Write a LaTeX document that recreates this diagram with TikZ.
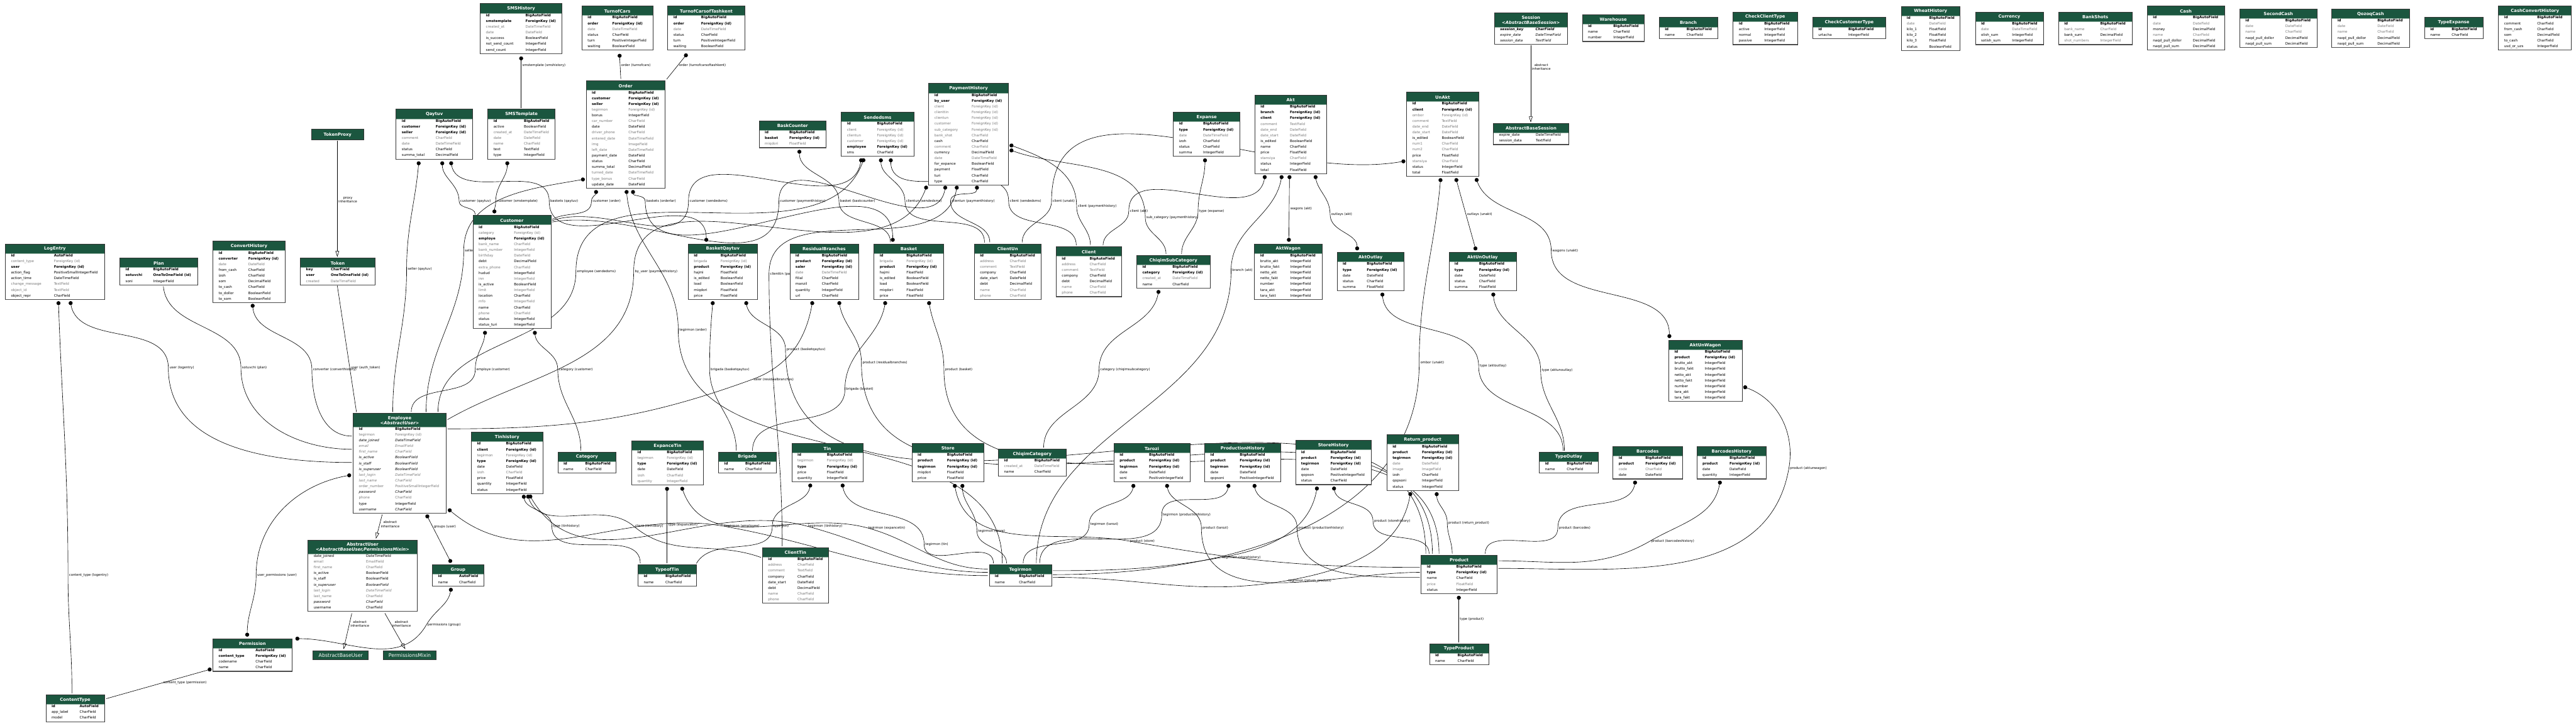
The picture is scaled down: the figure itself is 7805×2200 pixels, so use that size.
\documentclass[tikz,border=0pt]{standalone}
\usepackage{fontspec}
\setmainfont{DejaVu Sans}
\usetikzlibrary{arrows.meta,calc}
\pgfdeclarelayer{bg}\pgfdeclarelayer{edges}
\pgfsetlayers{bg,edges,main}
\definecolor{hdrgreen}{HTML}{1B563F}
\definecolor{fgray}{HTML}{7B7B7B}
\definecolor{hdrline}{HTML}{8FAF9F}
\newcommand\rowfont{\fontsize{5.3}{6}\selectfont}
\newcommand\hdrfont{\fontsize{6.5}{7.5}\selectfont\bfseries}
\newcommand\lblfont{\fontsize{5}{5.8}\selectfont}
\def\RB{\bfseries}\def\RN{}\def\RG{\color{fgray}}\def\RI{\itshape}
\def\RIG{\itshape\color{fgray}}\def\RIB{\bfseries\itshape}
\tikzset{
  x=0.5pt,y=-0.5pt,
  rowtxt/.style={font=\rowfont,anchor=base west,inner sep=0pt},
  hdrtxt/.style={font=\hdrfont,text=white,align=center,inner sep=0pt},
  edge/.style={draw=black,line width=0.6pt},
  fk/.style={edge,{Circle[length=6pt,width=6pt]}-},
  mm/.style={edge,{Circle[length=6pt,width=6pt]}-{Circle[length=6pt,width=6pt]}},
  oo/.style={edge},
  inh/.style={edge,-{Triangle[open,length=9pt,width=5.5pt]}},
  lbl/.style={font=\lblfont,inner sep=1.5pt,align=center},
}
% #1 header height, #2 name, #3 x, #4 y, #5 width, #6 type column, #7 title, #8 rows
\newcommand\tbl[8][29]{%
  \xdef\nrows{0}%
  \foreach \r [count=\k] in {#8} {\xdef\nrows{\k}}%
  \pgfmathsetmacro\tabh{#1+18+17.4*(\nrows-1)}%
  \fill[white] (#3,#4) rectangle ++(#5,\tabh);
  \fill[hdrgreen] (#3,#4) rectangle ++(#5,#1);
  \draw[hdrline,line width=0.8pt] (#3,#4+#1) -- ++(#5,0);
  \draw[black!80,line width=0.6pt] (#3,#4) rectangle ++(#5,\tabh);
  \draw[black!70,line width=1.2pt] (#3,#4+\tabh) -- ++(#5,0);
  \node[hdrtxt] at (#3+#5/2,#4+#1/2+1) {#7};
  \foreach \s/\f/\t [count=\k] in {#8} {
    \node[rowtxt] at (#3+17,#4+#1+10+17.4*\k-17.4) {\s\f};
    \node[rowtxt] at (#3+#6,#4+#1+10+17.4*\k-17.4) {\s\t};
  }
  \node[inner sep=0pt,minimum width=#5*0.5pt,minimum height=\tabh*0.5pt,anchor=north west] (#2) at (#3,#4) {};
}
% header-only box: #1 name #2 x #3 y #4 w #5 h #6 text #7 font
\newcommand\hbx[7]{%
  \fill[hdrgreen] (#2,#3) rectangle ++(#4,#5);
  \draw[black!80,line width=0.6pt] (#2,#3) rectangle ++(#4,#5);
  \node[inner sep=0pt,minimum width=#4*0.5pt,minimum height=#5*0.5pt,anchor=north west,text=white,font=#7] (#1) at (#2,#3) {#6};
}
% straight connector: [#1 style] #2 (offset #3) to #4 (offset #5), #6 to-options, #7 label options, #8 label
\newcommand\E[8][fk]{\draw[#1] ($(#2.north west)+(#3)$) to[#6] node[lbl,#7]{#8} ($(#4.north west)+(#5)$);}
% curved connector through a label point: [#1] #2 (off #3) out #4, via #5, to #6 (off #7) in #8, label #9
\def\mo{-90}\def\mi{90}
\newcommand\F[9][fk]{\draw[#1] ($(#2.north west)+(#3)$) to[out=#4,in=\mi] (#5) node[lbl,anchor=west]{#9} to[out=\mo,in=#8] ($(#6.north west)+(#7)$);}
\begin{document}
\begin{tikzpicture}
\begin{pgfonlayer}{bg}
\fill[white] (0,0) rectangle (7805,2200);
\end{pgfonlayer}
\useasboundingbox (0,0) rectangle (7805,2200);

% ---------------- top row ----------------
\tbl{smshistory}{1455}{11}{248}{137}{SMSHistory}{\RB/id/BigAutoField,\RB/smstemplate/ForeignKey (id),\RG/created\_at/DateTimeField,\RG/date/DateField,\RN/is\_success/BooleanField,\RN/not\_send\_count/IntegerField,\RN/send\_count/IntegerField}
\tbl{turnofcars}{1763}{18}{215}{92}{TurnofCars}{\RB/id/BigAutoField,\RB/order/ForeignKey (id),\RG/date/DateTimeField,\RN/status/CharField,\RN/turn/PositiveIntegerField,\RN/waiting/BooleanField}
\tbl{turnofcarsoftashkent}{2023}{18}{234}{101}{TurnofCarsofTashkent}{\RB/id/BigAutoField,\RB/order/ForeignKey (id),\RG/date/DateTimeField,\RN/status/CharField,\RN/turn/PositiveIntegerField,\RN/waiting/BooleanField}
\tbl{order}{1776}{245}{239}{128}{Order}{\RB/id/BigAutoField,\RB/customer/ForeignKey (id),\RB/seller/ForeignKey (id),\RG/tegirmon/ForeignKey (id),\RN/bonus/IntegerField,\RG/car\_number/CharField,\RN/date/DateField,\RG/driver\_phone/CharField,\RG/entered\_date/DateTimeField,\RG/img/ImageField,\RG/left\_date/DateTimeField,\RN/payment\_date/DateField,\RN/status/CharField,\RN/summa\_total/DecimalField,\RG/turned\_date/DateTimeField,\RG/type\_bonus/CharField,\RN/update\_date/DateField}
\tbl{qaytuv}{1200}{331}{232}{120}{Qaytuv}{\RB/id/BigAutoField,\RB/customer/ForeignKey (id),\RB/seller/ForeignKey (id),\RG/comment/CharField,\RG/date/DateTimeField,\RN/status/CharField,\RN/summa\_total/DecimalField}
\tbl{smstemplate}{1478}{331}{204}{109}{SMSTemplate}{\RB/id/BigAutoField,\RN/active/BooleanField,\RG/created\_at/DateTimeField,\RG/date/DateField,\RG/name/CharField,\RN/text/TextField,\RN/type/IntegerField}
\hbx{tokenproxy}{943}{392}{159}{32}{TokenProxy}{\hdrfont}
\tbl{baskcounter}{2300}{366}{203}{91}{BaskCounter}{\RB/id/BigAutoField,\RB/basket/ForeignKey (id),\RG/miqdori/FloatField}
\tbl{sendedsms}{2549}{340}{220}{108}{Sendedsms}{\RB/id/BigAutoField,\RG/client/ForeignKey (id),\RG/clientun/ForeignKey (id),\RG/customer/ForeignKey (id),\RB/employee/ForeignKey (id),\RN/sms/CharField}
\tbl{paymenthistory}{2814}{253}{241}{130}{PaymentHistory}{\RB/id/BigAutoField,\RB/by\_user/ForeignKey (id),\RG/client/ForeignKey (id),\RG/clienttin/ForeignKey (id),\RG/clientun/ForeignKey (id),\RG/customer/ForeignKey (id),\RG/sub\_category/ForeignKey (id),\RG/bank\_shot/CharField,\RN/cash/CharField,\RG/comment/CharField,\RN/currency/DecimalField,\RG/date/DateTimeField,\RN/for\_expance/BooleanField,\RN/payment/FloatField,\RN/turi/CharField,\RN/type/CharField}
\tbl{expanse}{3555}{340}{202}{90}{Expanse}{\RB/id/BigAutoField,\RB/type/ForeignKey (id),\RG/date/DateTimeField,\RN/izoh/CharField,\RN/status/CharField,\RN/summa/IntegerField}
\tbl{akt}{3802}{288}{217}{106}{Akt}{\RB/id/BigAutoField,\RB/branch/ForeignKey (id),\RB/client/ForeignKey (id),\RG/comment/TextField,\RG/date\_end/DateField,\RG/date\_start/DateField,\RN/is\_edited/BooleanField,\RN/name/CharField,\RN/price/FloatField,\RG/stansiya/CharField,\RN/status/IntegerField,\RN/total/FloatField}
\tbl{unakt}{4262}{279}{218}{106}{UnAkt}{\RB/id/BigAutoField,\RB/client/ForeignKey (id),\RG/ombor/ForeignKey (id),\RG/comment/TextField,\RG/date\_end/DateField,\RG/date\_start/DateField,\RN/is\_edited/BooleanField,\RG/num1/CharField,\RG/num2/CharField,\RN/price/FloatField,\RG/stansiya/CharField,\RN/status/IntegerField,\RN/total/FloatField}
\tbl[44]{session}{4528}{38}{221}{124}{Session\\\textit{<AbstractBaseSession>}}{\RIB/session\_key/CharField,\RI/expire\_date/DateTimeField,\RI/session\_data/TextField}
\tbl{abstractbasesession}{4525}{374}{228}{128}{AbstractBaseSession}{\RN/expire\_date/DateTimeField,\RN/session\_data/TextField}
\tbl{warehouse}{4794}{44}{188}{94}{Warehouse}{\RB/id/BigAutoField,\RN/name/CharField,\RN/number/IntegerField}
\tbl{branch}{5027}{53}{177}{83}{Branch}{\RB/id/BigAutoField,\RN/name/CharField}
\tbl{checkclienttype}{5251}{36}{195}{94}{CheckClientType}{\RB/id/BigAutoField,\RN/active/IntegerField,\RN/normal/IntegerField,\RN/passive/IntegerField}
\tbl{checkcustomertype}{5492}{53}{222}{108}{CheckCustomerType}{\RB/id/BigAutoField,\RN/urtacha/IntegerField}
\tbl{wheathistory}{5760}{19}{179}{85}{WheatHistory}{\RB/id/BigAutoField,\RG/date/DateField,\RN/kilo\_1/FloatField,\RN/kilo\_2/FloatField,\RN/kilo\_3/FloatField,\RN/status/BooleanField}
\tbl{currency}{5985}{36}{206}{111}{Currency}{\RB/id/BigAutoField,\RG/date/DateTimeField,\RN/olish\_sum/IntegerField,\RN/sotish\_sum/IntegerField}
\tbl{bankshots}{6237}{36}{223}{126}{BankShots}{\RB/id/BigAutoField,\RG/bank\_name/CharField,\RN/bank\_sum/DecimalField,\RG/shot\_numbers/IntegerField}
\tbl{cash}{6506}{18}{234}{138}{Cash}{\RB/id/BigAutoField,\RG/date/DateField,\RN/money/DecimalField,\RG/name/CharField,\RN/naqd\_pull\_dollor/DecimalField,\RN/naqd\_pull\_sum/DecimalField}
\tbl{secondcash}{6786}{27}{234}{138}{SecondCash}{\RB/id/BigAutoField,\RG/date/DateField,\RG/name/CharField,\RN/naqd\_pull\_dollor/DecimalField,\RN/naqd\_pull\_sum/DecimalField}
\tbl{qozoqcash}{7065}{27}{235}{138}{QozoqCash}{\RB/id/BigAutoField,\RG/date/DateField,\RG/name/CharField,\RN/naqd\_pull\_dollor/DecimalField,\RN/naqd\_pull\_sum/DecimalField}
\tbl{typeexpanse}{7346}{53}{177}{82}{TypeExpanse}{\RB/id/BigAutoField,\RN/name/CharField}
\tbl{cashconverthistory}{7570}{18}{221}{117}{CashConvertHistory}{\RB/id/BigAutoField,\RN/comment/CharField,\RN/from\_cash/CharField,\RN/som/DecimalField,\RN/to\_cash/CharField,\RN/usd\_or\_uzs/IntegerField}

% ---------------- middle row ----------------
\tbl{logentry}{16}{739}{301}{147}{LogEntry}{\RB/id/AutoField,\RG/content\_type/ForeignKey (id),\RB/user/ForeignKey (id),\RN/action\_flag/PositiveSmallIntegerField,\RN/action\_time/DateTimeField,\RG/change\_message/TextField,\RG/object\_id/TextField,\RN/object\_repr/CharField}
\tbl{plan}{363}{782}{236}{101}{Plan}{\RB/id/BigAutoField,\RB/sotuvchi/OneToOneField (id),\RN/soni/IntegerField}
\tbl{converthistory}{645}{731}{219}{107}{ConvertHistory}{\RB/id/BigAutoField,\RB/converter/ForeignKey (id),\RG/date/DateField,\RN/from\_cash/CharField,\RN/izoh/CharField,\RN/som/DecimalField,\RN/to\_cash/CharField,\RN/to\_dollor/BooleanField,\RN/to\_som/BooleanField}
\tbl{token}{910}{782}{227}{92}{Token}{\RB/key/CharField,\RB/user/OneToOneField (id),\RG/created/DateTimeField}
\tbl{customer}{1433}{653}{236}{124}{Customer}{\RB/id/BigAutoField,\RG/category/ForeignKey (id),\RB/employe/ForeignKey (id),\RG/bank\_name/CharField,\RG/bank\_number/IntegerField,\RG/birthday/DateField,\RN/debt/DecimalField,\RG/extra\_phone/CharField,\RN/hudud/IntegerField,\RG/inn/IntegerField,\RN/is\_active/BooleanField,\RG/limit/IntegerField,\RN/location/CharField,\RG/mfo/IntegerField,\RN/name/CharField,\RG/phone/CharField,\RN/status/IntegerField,\RN/status\_turi/IntegerField}
\tbl{basketqaytuv}{2085}{739}{210}{98}{BasketQaytuv}{\RB/id/BigAutoField,\RG/brigada/ForeignKey (id),\RB/product/ForeignKey (id),\RN/hajmi/FloatField,\RN/is\_edited/BooleanField,\RN/load/BooleanField,\RN/miqdori/FloatField,\RN/price/FloatField}
\tbl{residualbranches}{2393}{739}{208}{97}{ResidualBranches}{\RB/id/BigAutoField,\RB/product/ForeignKey (id),\RB/saler/ForeignKey (id),\RG/date/DateTimeField,\RN/filial/CharField,\RN/manzil/CharField,\RN/quantity/IntegerField,\RN/url/CharField}
\tbl{basket}{2648}{739}{211}{98}{Basket}{\RB/id/BigAutoField,\RG/brigada/ForeignKey (id),\RB/product/ForeignKey (id),\RN/hajmi/FloatField,\RN/is\_edited/BooleanField,\RN/load/BooleanField,\RN/miqdori/FloatField,\RN/price/FloatField}
\tbl{clientun}{2952}{739}{202}{107}{ClientUn}{\RB/id/BigAutoField,\RG/address/CharField,\RG/comment/TextField,\RN/compony/CharField,\RN/date\_start/DateField,\RN/debt/DecimalField,\RG/name/CharField,\RG/phone/CharField}
\tbl{client}{3200}{748}{198}{101}{Client}{\RB/id/BigAutoField,\RG/address/CharField,\RG/comment/TextField,\RN/compony/CharField,\RN/debt/DecimalField,\RG/name/CharField,\RG/phone/CharField}
\tbl{chiqimsubcategory}{3444}{774}{222}{108}{ChiqimSubCategory}{\RB/id/BigAutoField,\RB/category/ForeignKey (id),\RG/created\_at/DateTimeField,\RN/name/CharField}
\tbl{aktwagon}{3801}{739}{204}{108}{AktWagon}{\RB/id/BigAutoField,\RN/brutto\_akt/IntegerField,\RN/brutto\_fakt/IntegerField,\RN/netto\_akt/IntegerField,\RN/netto\_fakt/IntegerField,\RN/number/IntegerField,\RN/tara\_akt/IntegerField,\RN/tara\_fakt/IntegerField}
\tbl{aktoutlay}{4051}{765}{203}{90}{AktOutlay}{\RB/id/BigAutoField,\RB/type/ForeignKey (id),\RN/date/DateField,\RN/status/CharField,\RN/summa/FloatField}
\tbl{aktunoutlay}{4390}{765}{204}{91}{AktUnOutlay}{\RB/id/BigAutoField,\RB/type/ForeignKey (id),\RN/date/DateField,\RN/status/CharField,\RN/summa/FloatField}
\tbl{aktunwagon}{5056}{1031}{222}{109}{AktUnWagon}{\RB/id/BigAutoField,\RB/product/ForeignKey (id),\RN/brutto\_akt/IntegerField,\RN/brutto\_fakt/IntegerField,\RN/netto\_akt/IntegerField,\RN/netto\_fakt/IntegerField,\RN/number/IntegerField,\RN/tara\_akt/IntegerField,\RN/tara\_fakt/IntegerField}

% ---------------- lower row ----------------
\tbl[42]{employee}{1070}{1252}{282}{127}{Employee\\\textit{<AbstractUser>}}{\RB/id/BigAutoField,\RG/tegirmon/ForeignKey (id),\RI/date\_joined/DateTimeField,\RIG/email/EmailField,\RIG/first\_name/CharField,\RI/is\_active/BooleanField,\RI/is\_staff/BooleanField,\RI/is\_superuser/BooleanField,\RIG/last\_login/DateTimeField,\RIG/last\_name/CharField,\RG/order\_number/PositiveSmallIntegerField,\RI/password/CharField,\RG/phone/CharField,\RN/type/IntegerField,\RI/username/CharField}
\tbl{tinhistory}{1428}{1310}{217}{105}{Tinhistory}{\RB/id/BigAutoField,\RB/client/ForeignKey (id),\RG/tegirmon/ForeignKey (id),\RB/type/ForeignKey (id),\RN/date/DateField,\RG/izoh/CharField,\RN/price/FloatField,\RN/quantity/IntegerField,\RN/status/IntegerField}
\tbl{category}{1690}{1370}{177}{83}{Category}{\RB/id/BigAutoField,\RN/name/CharField}
\tbl{expancetin}{1914}{1336}{217}{106}{ExpanceTin}{\RB/id/BigAutoField,\RG/tegirmon/ForeignKey (id),\RB/type/ForeignKey (id),\RN/date/DateField,\RG/izoh/CharField,\RG/quantity/IntegerField}
\tbl{brigada}{2177}{1370}{175}{81}{Brigada}{\RB/id/BigAutoField,\RN/name/CharField}
\tbl{tin}{2399}{1344}{216}{106}{Tin}{\RB/id/BigAutoField,\RG/tegirmon/ForeignKey (id),\RB/type/ForeignKey (id),\RN/price/FloatField,\RN/quantity/IntegerField}
\tbl{store}{2763}{1344}{218}{106}{Store}{\RB/id/BigAutoField,\RB/product/ForeignKey (id),\RB/tegirmon/ForeignKey (id),\RN/miqdori/FloatField,\RN/price/FloatField}
\tbl{chiqimcategory}{3025}{1361}{205}{109}{ChiqimCategory}{\RB/id/BigAutoField,\RG/created\_at/DateTimeField,\RN/name/CharField}
\tbl{tarozi}{3375}{1344}{230}{106}{Tarozi}{\RB/id/BigAutoField,\RB/product/ForeignKey (id),\RB/tegirmon/ForeignKey (id),\RN/date/DateField,\RN/soni/PositiveIntegerField}
\tbl{productionhistory}{3650}{1344}{230}{106}{ProductionHistory}{\RB/id/BigAutoField,\RB/product/ForeignKey (id),\RB/tegirmon/ForeignKey (id),\RN/date/DateField,\RN/qopsoni/PositiveIntegerField}
\tbl{storehistory}{3925}{1335}{230}{106}{StoreHistory}{\RB/id/BigAutoField,\RB/product/ForeignKey (id),\RB/tegirmon/ForeignKey (id),\RN/date/DateField,\RN/qopson/PositiveIntegerField,\RN/status/CharField}
\tbl{returnproduct}{4202}{1318}{217}{106}{Return\_product}{\RB/id/BigAutoField,\RB/product/ForeignKey (id),\RB/tegirmon/ForeignKey (id),\RG/date/DateField,\RG/image/ImageField,\RN/izoh/CharField,\RN/qopsoni/IntegerField,\RN/status/IntegerField}
\tbl{typeoutlay}{4664}{1370}{178}{83}{TypeOutlay}{\RB/id/BigAutoField,\RN/name/CharField}
\tbl{barcodes}{4887}{1353}{210}{98}{Barcodes}{\RB/id/BigAutoField,\RB/product/ForeignKey (id),\RG/code/CharField,\RN/date/DateField}
\tbl{barcodeshistory}{5141}{1353}{211}{99}{BarcodesHistory}{\RB/id/BigAutoField,\RB/product/ForeignKey (id),\RN/date/DateField,\RN/quantity/IntegerField}

% ---------------- bottom ----------------
\tbl[42]{abstractuser}{933}{1637}{331}{176}{AbstractUser\\\textit{<AbstractBaseUser,PermissionsMixin>}}{\RN/date\_joined/DateTimeField,\RG/email/EmailField,\RG/first\_name/CharField,\RN/is\_active/BooleanField,\RN/is\_staff/BooleanField,\RI/is\_superuser/BooleanField,\RIG/last\_login/DateTimeField,\RG/last\_name/CharField,\RI/password/CharField,\RN/username/CharField}
\tbl{group}{1310}{1712}{156}{81}{Group}{\RB/id/AutoField,\RN/name/CharField}
\tbl{typeoftin}{1933}{1712}{177}{83}{TypeofTin}{\RB/id/BigAutoField,\RN/name/CharField}
\tbl{clienttin}{2310}{1660}{200}{106}{ClientTin}{\RB/id/BigAutoField,\RG/address/CharField,\RG/comment/TextField,\RN/compony/CharField,\RN/date\_start/DateField,\RN/debt/DecimalField,\RG/name/CharField,\RG/phone/CharField}
\tbl{tegirmon}{2997}{1712}{189}{90}{Tegirmon}{\RB/id/BigAutoField,\RN/name/CharField}
\tbl{product}{4306}{1683}{230}{106}{Product}{\RB/id/BigAutoField,\RB/type/ForeignKey (id),\RN/name/CharField,\RG/price/FloatField,\RN/status/IntegerField}
\tbl{typeproduct}{4331}{1951}{179}{85}{TypeProduct}{\RB/id/BigAutoField,\RN/name/CharField}
\tbl{permission}{645}{1936}{240}{129}{Permission}{\RB/id/AutoField,\RB/content\_type/ForeignKey (id),\RN/codename/CharField,\RN/name/CharField}
\hbx{abstractbaseuser}{948}{1972}{168}{28}{AbstractBaseUser}{\fontsize{7.5}{8}\selectfont}
\hbx{permissionsmixin}{1161}{1972}{160}{28}{PermissionsMixin}{\fontsize{7.5}{8}\selectfont}
\tbl{contenttype}{139}{2106}{178}{102}{ContentType}{\RB/id/AutoField,\RN/app\_label/CharField,\RN/model/CharField}

% ---------------- connectors (on a layer under the tables) ----------------
\begin{pgfonlayer}{edges}
\E{smshistory}{124,160}{smstemplate}{101,-4}{}{right,pos=0.17}{smstemplate (smshistory)}
\E{turnofcars}{114,145}{order}{105,-5}{}{right,pos=0.45}{order (turnofcars)}
\E{turnofcarsoftashkent}{59,145}{order}{244,-5}{}{right,pos=0.45}{order (turnofcarsoftashkent)}
\E[inh]{tokenproxy}{79,34}{token}{112,-3}{}{right,pos=0.51}{proxy\\inheritance}
\E[inh]{session}{110,100}{abstractbasesession}{113,-3}{}{right,pos=0.28}{abstract\\inheritance}
\E[oo]{token}{112,84}{employee}{10,-3}{}{right,pos=0.65}{user (auth\_token)}
\E[mm]{akt}{105,243}{aktwagon}{104,-6}{}{right,pos=0.5}{wagons (akt)}
\E[mm]{unakt}{149,261}{aktunoutlay}{82,-6}{}{right,pos=0.5}{outlays (unakt)}
\E[mm]{employee}{222,308}{group}{57,-6}{}{right,pos=0.25}{groups (user)}
\E{permission}{-4,92}{contenttype}{183,12}{}{right,pos=0.47}{content\_type (permission)}
\E[inh]{employee}{88,308}{abstractuser}{206,-4}{}{right,pos=0.4}{abstract\\inheritance}
\E[inh]{abstractuser}{133,222}{abstractbaseuser}{93,-4}{}{right,pos=0.3}{abstract\\inheritance}
\E[inh]{abstractuser}{233,222}{permissionsmixin}{67,-4}{}{right,pos=0.3}{abstract\\inheritance}
\E{expancetin}{107,140}{typeoftin}{88,-4}{}{right,pos=0.5}{type (expancetin)}
\E{product}{114,123}{typeproduct}{89,-4}{}{right,pos=0.5}{type (product)}

\F{qaytuv}{140,158}{-90}{1391,610}{customer}{7,-3}{90}{customer (qaytuv)}
\F[mm]{smstemplate}{59,158}{-90}{1502,610}{customer}{65,-6}{90}{customer (smstemplate)}
\F[mm]{qaytuv}{166,158}{-80}{1664,610}{basketqaytuv}{55,-6}{90}{baskets (qaytuv)}
\F{order}{30,331}{-90}{1792,610}{customer}{240,12}{30}{customer (order)}
\F[mm]{order}{142,331}{-90}{1955,610}{basket}{57,-6}{90}{baskets (orderlar)}
\F{sendedsms}{61,140}{-100}{2086,610}{customer}{240,16}{20}{customer (sendedsms)}
\F{paymenthistory}{51,310}{-100}{2360,610}{customer}{240,20}{10}{customer (paymenthistory)}
\F{baskcounter}{122,88}{-90}{2542,610}{basket}{50,-4}{90}{basket (baskcounter)}
\F{sendedsms}{120,140}{-90}{2742,610}{clientun}{31,-4}{90}{clientun (sendedsms)}
\F{paymenthistory}{146,310}{-90}{2880,610}{clientun}{47,-4}{90}{clientun (paymenthistory)}
\F{sendedsms}{150,140}{-90}{3056,610}{client}{61,-4}{90}{client (sendedsms)}
\F{unakt}{-4,209}{190}{3186,610}{clientun}{145,-4}{90}{client (unakt)}
\F{paymenthistory}{245,186}{-20}{3262,625}{client}{104,-4}{90}{client (paymenthistory)}
\F{akt}{31,243}{-100}{3420,640}{client}{142,-4}{90}{client (akt)}
\F{paymenthistory}{245,201}{-20}{3470,660}{chiqimsubcategory}{89,-4}{90}{sub\_category (paymenthistory)}
\F{expanse}{96,140}{-90}{3630,640}{chiqimsubcategory}{136,-4}{90}{type (expanse)}
\F{paymenthistory}{-6,310}{-110}{1920,823}{employee}{286,20}{30}{by\_user (paymenthistory)}
\F{sendedsms}{69,140}{-110}{1745,823}{employee}{257,-3}{90}{employee (sendedsms)}
\F{paymenthistory}{86,310}{-100}{2330,830}{clienttin}{60,-4}{90}{clienttin (paymenthistory)}
\F{order}{-4,298}{190}{1405,760}{employee}{221,-3}{90}{seller (order)}
\F{qaytuv}{69,158}{-95}{1232,816}{employee}{120,-3}{90}{seller (qaytuv)}
\F{order}{122,331}{-85}{2055,1000}{tegirmon}{40,-4}{90}{tegirmon (order)}
\F{logentry}{197,174}{-80}{510,1115}{employee}{-4,150}{180}{user (logentry)}
\F[oo]{plan}{132,86}{-85}{730,1115}{employee}{-4,110}{180}{sotuvchi (plan)}
\F{converthistory}{120,190}{-85}{945,1120}{employee}{-4,70}{180}{converter (converthistory)}
\F{customer}{37,350}{-95}{1440,1120}{employee}{176,-3}{90}{employe (customer)}
\F{customer}{187,350}{-85}{1690,1120}{category}{70,-4}{90}{category (customer)}
{\def\mo{-160}\def\mi{20}\F{residualbranches}{69,174}{-100}{2280,1150}{employee}{286,48}{0}{saler (residualbranches)}}
\F{basketqaytuv}{75,174}{-95}{2150,1120}{brigada}{54,-4}{90}{brigada (basketqaytuv)}
\F{basketqaytuv}{175,174}{-80}{2380,1060}{product}{14,-4}{90}{product (basketqaytuv)}
\F{residualbranches}{149,174}{-80}{2610,1100}{product}{34,-4}{90}{product (residualbranches)}
\F{basket}{35,174}{-100}{2560,1180}{brigada}{103,-4}{90}{brigada (basket)}
\F{basket}{166,174}{-80}{2860,1120}{product}{54,-4}{90}{product (basket)}
\F{chiqimsubcategory}{67,105}{-100}{3330,1120}{chiqimcategory}{137,-4}{90}{category (chiqimsubcategory)}
\F{akt}{82,243}{-100}{3730,820}{tegirmon}{143,-4}{90}{branch (akt)}
\F[mm]{akt}{183,243}{-80}{4030,650}{aktoutlay}{61,-6}{90}{outlays (akt)}
\F{unakt}{103,261}{-95}{4300,1100}{tegirmon}{193,30}{0}{ombor (unakt)}
\F[mm]{unakt}{210,261}{-70}{4700,760}{aktunwagon}{2,-6}{90}{wagons (unakt)}
\F{aktoutlay}{137,122}{-85}{4480,1110}{typeoutlay}{72,-4}{90}{type (aktoutlay)}
\F{aktunoutlay}{134,122}{-85}{4668,1123}{typeoutlay}{76,-4}{90}{type (aktunoutlay)}
{\def\mo{-100}\def\mi{80}\F{aktunwagon}{226,141}{-20}{5420,1420}{product}{234,40}{0}{product (aktunwagon)}}
{\def\mo{-10}\def\mi{170}\F{employee}{288,291}{-40}{2192,1595}{tegirmon}{-4,33}{180}{tegirmon (employee)}}
\F{tinhistory}{158,190}{-80}{1672,1595}{typeoftin}{7,-4}{90}{type (tinhistory)}
{\def\mo{-40}\def\mi{140}\F{tinhistory}{170,190}{-70}{1920,1595}{clienttin}{-4,30}{160}{client (tinhistory)}}
{\def\mo{-15}\def\mi{165}\F{tinhistory}{176,190}{-60}{2445,1595}{tegirmon}{-4,23}{180}{tegirmon (tinhistory)}}
{\def\mo{-15}\def\mi{165}\F{expancetin}{151,140}{-70}{2627,1600}{tegirmon}{-4,13}{180}{tegirmon (expancetin)}}
\F{tin}{57,122}{-100}{2340,1595}{typeoftin}{177,-4}{60}{type (tin)}
\F{tin}{153,122}{-80}{2800,1650}{tegirmon}{13,-4}{90}{tegirmon (tin)}
\F{store}{153,123}{-90}{2960,1610}{tegirmon}{53,-4}{90}{tegirmon (store)}
{\def\mo{-10}\def\mi{170}\F{store}{129,123}{-80}{3420,1640}{product}{-4,37}{180}{product (store)}}
\F{tarozi}{60,123}{-100}{3300,1590}{tegirmon}{103,-4}{90}{tegirmon (tarozi)}
\F{tarozi}{160,123}{-80}{3640,1600}{product}{-4,52}{180}{product (tarozi)}
\F{productionhistory}{73,123}{-100}{3520,1560}{tegirmon}{153,-4}{90}{tegirmon (productionhistory)}
\F{productionhistory}{150,123}{-80}{3930,1600}{product}{-4,67}{180}{product (productionhistory)}
{\def\mo{-170}\def\mi{10}\F{storehistory}{66,140}{-100}{3700,1690}{tegirmon}{193,18}{0}{tegirmon (storehistory)}}
\F{storehistory}{116,140}{-80}{4160,1580}{product}{24,-4}{90}{product (storehistory)}
{\def\mo{-170}\def\mi{10}\F{returnproduct}{72,174}{-100}{3900,1760}{tegirmon}{193,38}{0}{tegirmon (return\_product)}}
\F{returnproduct}{151,174}{-90}{4385,1585}{product}{94,-4}{90}{product (return\_product)}
\F{barcodes}{68,104}{-100}{4720,1600}{product}{194,-4}{90}{product (barcodes)}
{\def\mo{-150}\def\mi{30}\F{barcodeshistory}{71,104}{-100}{5000,1640}{product}{234,17}{0}{product (barcodeshistory)}}
\F[mm]{employee}{-6,188}{190}{776,1744}{permission}{104,-6}{90}{user\_permissions (user)}
{\def\mo{-120}\def\mi{60}\F[mm]{group}{57,70}{-100}{1292,1894}{permission}{250,0}{0}{permissions (group)}}
\F{logentry}{161,174}{-88}{206,1744}{contenttype}{79,-4}{90}{content\_type (logentry)}
\end{pgfonlayer}
\end{tikzpicture}
\end{document}
